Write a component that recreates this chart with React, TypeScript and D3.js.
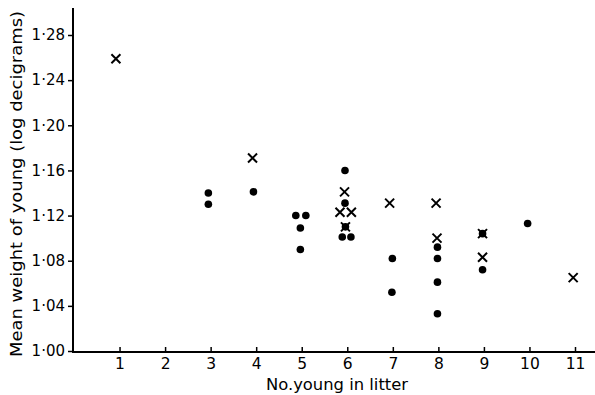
import React, { useEffect, useRef } from 'react';
import * as d3 from 'd3';

// litter size vs mean weight of young; crosses and dots are the two groups
const crossX = [0.92, 3.92, 5.94, 5.84, 6.09, 5.96, 6.93, 7.95, 7.97, 8.97, 8.97, 10.96];
const crossY = [1.259, 1.171, 1.141, 1.123, 1.123, 1.110, 1.131, 1.131, 1.100, 1.104, 1.083, 1.065];

const dotX = [2.95, 2.95, 3.94, 4.87, 5.09, 4.97, 4.97, 5.95, 5.95, 5.96, 5.89, 6.08,
  6.99, 6.98, 7.98, 7.98, 7.98, 7.98, 8.97, 8.97, 9.96];
const dotY = [1.140, 1.130, 1.141, 1.120, 1.120, 1.109, 1.090, 1.160, 1.131, 1.110, 1.101, 1.101,
  1.082, 1.052, 1.092, 1.082, 1.061, 1.033, 1.104, 1.072, 1.113];

const xTicks = [1, 2, 3, 4, 5, 6, 7, 8, 9, 10, 11];
const yTicks = [1.00, 1.04, 1.08, 1.12, 1.16, 1.20, 1.24, 1.28];

const xTitle = "No.young in litter";
const yTitle = "Mean weight of young (log decigrams)";

const App = () => {
  const svgRef = useRef(null);

  useEffect(() => {
    const width = 595;
    const height = 395;
    const font = "'DejaVu Sans', sans-serif";

    d3.select(svgRef.current).selectAll("*").remove();

    const svg = d3.select(svgRef.current)
      .attr("width", width)
      .attr("height", height);

    svg.append("rect").attr("width", width).attr("height", height).attr("fill", "white");

    const x = d3.scaleLinear().domain([0, 11]).range([74, 575]);
    const y = d3.scaleLinear().domain([1.0, 1.28]).range([351, 35]);

    const fmt = (d) => d3.format(".2f")(d).replace(".", "\u00b7");

    // y axis
    const yAxis = svg.append("g")
      .attr("transform", `translate(${x(0) - 1},0)`)
      .call(d3.axisLeft(y).tickValues(yTicks).tickFormat(fmt).tickSize(5).tickSizeOuter(0).tickPadding(3));
    yAxis.select(".domain").remove();
    yAxis.selectAll("line").attr("stroke", "#000").attr("stroke-width", 1.5);
    yAxis.selectAll("text")
      .attr("fill", "#000")
      .style("font-family", font)
      .style("font-size", "15px");
    svg.append("line")
      .attr("x1", x(0) - 1).attr("x2", x(0) - 1)
      .attr("y1", 8).attr("y2", y(1.0) + 1.5)
      .attr("stroke", "#000").attr("stroke-width", 2);

    // x axis, ticks pointing up into the plot
    const xAxis = svg.append("g")
      .attr("transform", `translate(0,${y(1.0) + 1})`)
      .call(d3.axisBottom(x).tickValues(xTicks).tickFormat(d3.format("d")).tickSize(-5).tickSizeOuter(0).tickPadding(6));
    xAxis.select(".domain").remove();
    xAxis.selectAll("line").attr("stroke", "#000").attr("stroke-width", 1.5);
    xAxis.selectAll("text")
      .attr("fill", "#000")
      .style("font-family", font)
      .style("font-size", "15.5px");
    svg.append("line")
      .attr("x1", x(0) - 2).attr("x2", width)
      .attr("y1", y(1.0) + 1).attr("y2", y(1.0) + 1)
      .attr("stroke", "#000").attr("stroke-width", 1.8);

    // axis titles
    svg.append("text")
      .attr("x", 337)
      .attr("y", 390)
      .attr("text-anchor", "middle")
      .attr("textLength", 142)
      .attr("lengthAdjust", "spacingAndGlyphs")
      .style("font-family", font)
      .style("font-size", "16px")
      .text(xTitle);

    svg.append("text")
      .attr("transform", "translate(22,184) rotate(-90)")
      .attr("text-anchor", "middle")
      .attr("textLength", 346)
      .attr("lengthAdjust", "spacingAndGlyphs")
      .style("font-family", font)
      .style("font-size", "16px")
      .text(yTitle);

    // dots
    svg.append("g")
      .selectAll("circle")
      .data(dotX.map((d, i) => [d, dotY[i]]))
      .enter()
      .append("circle")
      .attr("cx", d => x(d[0]))
      .attr("cy", d => y(d[1]))
      .attr("r", 3.8)
      .attr("fill", "#000");

    // crosses
    const s = 4.5;
    svg.append("g")
      .selectAll("path")
      .data(crossX.map((d, i) => [d, crossY[i]]))
      .enter()
      .append("path")
      .attr("d", d => {
        const cx = x(d[0]), cy = y(d[1]);
        return `M${cx - s},${cy - s}L${cx + s},${cy + s}M${cx - s},${cy + s}L${cx + s},${cy - s}`;
      })
      .attr("stroke", "#000")
      .attr("stroke-width", 2)
      .attr("fill", "none");
  }, []);

  return (
    <svg ref={svgRef} style={{ position: "absolute", left: 0, top: 0 }}></svg>
  );
};

export default App;
